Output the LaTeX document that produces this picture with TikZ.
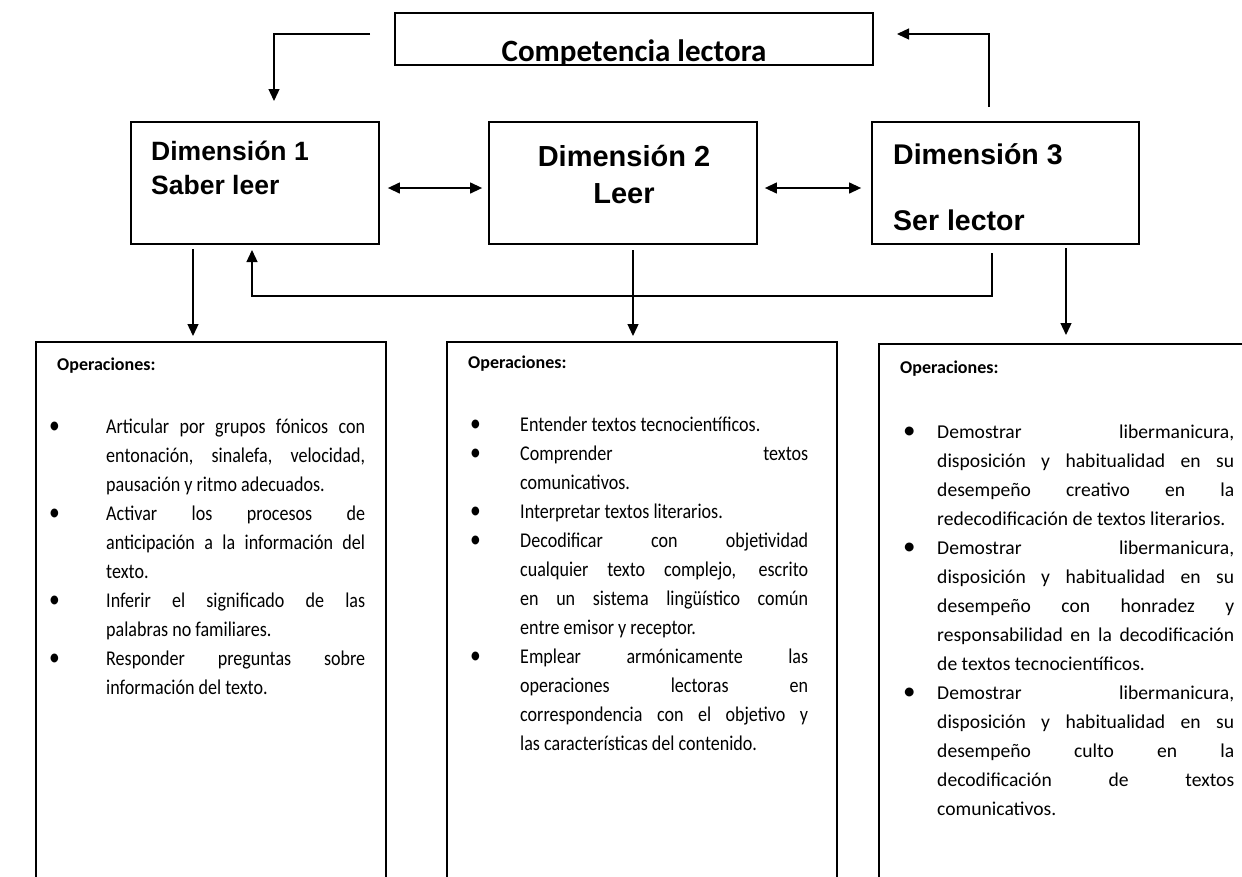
\documentclass[tikz,border=0pt]{standalone}
\usepackage{fontspec}
\setmainfont{Carlito}
\newfontfamily\bodyc{Carlito}[FakeStretch=0.86]
\newfontfamily\arialf{Liberation Sans}
\usetikzlibrary{arrows.meta,calc}
\newlength\bw
\newlength\tw
\newcommand\bul{{\fontsize{25}{29}\selectfont\textbullet}}
\newcommand\BL[1]{\hbox{\hbox to\bw{\bul\hfil}\hbox to\tw{#1}}}
\newcommand\BE[1]{\hbox{\hbox to\bw{\bul\hfil}#1}}
\newcommand\CL[1]{\hbox{\hskip\bw\hbox to\tw{#1}}}
\newcommand\CE[1]{\hbox{\hskip\bw #1}}
\newcommand\Items[1]{\vtop{\baselineskip=29pt\lineskiplimit=-\maxdimen\lineskip=0pt #1}}
\tikzset{
  box/.style={draw, line width=1.8pt, inner sep=0pt},
  obox/.style={line width=1.8pt},
  arr/.style={line width=1.3pt, -{Triangle[length=12pt,width=11pt]}},
  darr/.style={line width=1.3pt, {Triangle[length=12pt,width=11pt]}-{Triangle[length=12pt,width=11pt]}},
  txt/.style={anchor=base west, inner sep=0pt},
  dimtxt/.style={inner sep=0pt},
  opl/.style={anchor=base west, inner sep=0pt, font=\fontsize{18}{20}\selectfont\bfseries}
}
\begin{document}
\begin{tikzpicture}[x=1pt,y=-1pt]
\useasboundingbox[fill=white] (0,0) rectangle (1242,876);
% top box
\node[box, minimum width=478pt, minimum height=52pt] (top) at (634,39) {};
\begin{scope}
\clip (top.south west) rectangle (top.north east);
\node[inner sep=0pt, anchor=base, font=\fontsize{31}{31}\selectfont\bfseries] (toptxt) at (634,61) {Competencia lectora};
\end{scope}
% dimension boxes
\node[box, minimum width=248pt, minimum height=122pt] (d1) at (255,183) {};
\node[box, minimum width=268pt, minimum height=122pt] (d2) at (623,183) {};
\node[box, minimum width=267pt, minimum height=122pt] (d3) at (1005.5,183) {};
\node[dimtxt, anchor=base west, font=\arialf\bfseries\fontsize{26.5}{30}\selectfont] (d1a) at (151,160) {Dimensión 1};
\node[dimtxt, anchor=base west, font=\arialf\bfseries\fontsize{26.5}{30}\selectfont] (d1b) at (151,194) {Saber leer};
\node[dimtxt, anchor=base, font=\arialf\bfseries\fontsize{29}{30}\selectfont] (d2a) at (624,166) {Dimensión 2};
\node[dimtxt, anchor=base, font=\arialf\bfseries\fontsize{29}{30}\selectfont] (d2b) at (624,203) {Leer};
\node[dimtxt, anchor=base west, font=\arialf\bfseries\fontsize{28.5}{30}\selectfont] (d3a) at (893,164) {Dimensión 3};
\node[dimtxt, anchor=base west, font=\arialf\bfseries\fontsize{28.5}{30}\selectfont] (d3b) at (893,230) {Ser lector};
% operation boxes
\draw[obox] (36,890) |- (386,342) -- (386,890);
\coordinate (o1) at (211,342);
\draw[obox] (447,890) |- (837,342) -- (837,890);
\coordinate (o2) at (642,342);
\draw[obox] (879,890) |- (1250,344);
\coordinate (o3) at (1065,344);
\node[opl] (op1) at (57,370) {Operaciones:};
\node[opl] (op2) at (468,368) {Operaciones:};
\node[opl] (op3) at (900,373) {Operaciones:};
% lists
\node[txt] (l1) at (49,433) {\bodyc\fontsize{21}{29}\selectfont\setlength\bw{57pt}\setlength\tw{259pt}\Items{%
\BL{Articular por grupos fónicos con}
\CL{entonación, sinalefa, velocidad,}
\CE{pausación y ritmo adecuados.}
\BL{Activar los procesos de}
\CL{anticipación a la información del}
\CE{texto.}
\BL{Inferir el significado de las}
\CE{palabras no familiares.}
\BL{Responder preguntas sobre}
\CE{información del texto.}}};
\node[txt] (l2) at (470,431) {\bodyc\fontsize{21}{29}\selectfont\setlength\bw{50pt}\setlength\tw{288pt}\Items{%
\BE{Entender textos tecnocientíficos.}
\BL{Comprender textos}
\CE{comunicativos.}
\BE{Interpretar textos literarios.}
\BL{Decodificar con objetividad}
\CL{cualquier texto complejo, escrito}
\CL{en un sistema lingüístico común}
\CE{entre emisor y receptor.}
\BL{Emplear armónicamente las}
\CL{operaciones lectoras en}
\CL{correspondencia con el objetivo y}
\CE{las características del contenido.}}};
\node[txt] (l3) at (903,438) {\fontsize{19.6}{29}\selectfont\setlength\bw{34pt}\setlength\tw{297pt}\Items{%
\BL{Demostrar libermanicura,}
\CL{disposición y habitualidad en su}
\CL{desempeño creativo en la}
\CE{redecodificación de textos literarios.}
\BL{Demostrar libermanicura,}
\CL{disposición y habitualidad en su}
\CL{desempeño con honradez y}
\CL{responsabilidad en la decodificación}
\CE{de textos tecnocientíficos.}
\BL{Demostrar libermanicura,}
\CL{disposición y habitualidad en su}
\CL{desempeño culto en la}
\CL{decodificación de textos}
\CE{comunicativos.}}};
% connectors
\coordinate (tl1) at (370,34);
\coordinate (tl2) at (274,34);
\coordinate (tl3) at (274,101);
\draw[arr] (tl1) -- (tl2) -- (tl3);
\coordinate (tr1) at (989,107);
\coordinate (tr2) at (989,34);
\coordinate (tr3) at (897,34);
\draw[arr] (tr1) -- (tr2) -- (tr3);
\draw[darr] ($(d1.east)+(8,5)$) -- ($(d2.west)+(-6,5)$);
\draw[darr] ($(d2.east)+(7,5)$) -- ($(d3.west)+(-10,5)$);
\coordinate (a1) at (193,249);
\coordinate (a2) at (633,250);
\coordinate (a3) at (1066,248);
\draw[arr] (a1) -- ($(o1 -| a1)+(0,-6)$);
\draw[arr] (a2) -- ($(o2 -| a2)+(0,-6)$);
\draw[arr] (a3) -- ($(o3 -| a3)+(0,-9)$);
\coordinate (f1) at (992,253);
\coordinate (f2) at (992,296);
\coordinate (f3) at (252,296);
\coordinate (f4) at (252,250);
\draw[arr] (f1) -- (f2) -- (f3) -- (f4);
\end{tikzpicture}
\end{document}
